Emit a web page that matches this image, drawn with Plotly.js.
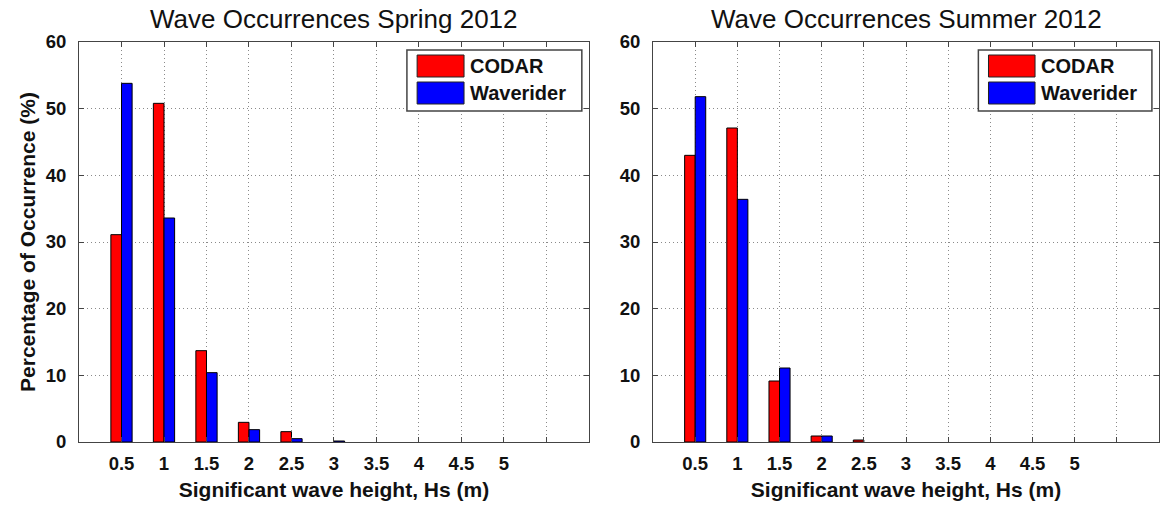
<!DOCTYPE html>
<html>
<head>
<meta charset="utf-8">
<script src="https://cdn.plot.ly/plotly-3.0.1.min.js"></script>
<style>html,body{margin:0;padding:0;background:#fff;}#chart{width:1163px;height:506px;}</style>
</head>
<body>
<div id="chart"></div>
<script>
// Data
const heights = [0.5, 1, 1.5, 2, 2.5, 3, 3.5, 4, 4.5, 5];
const tickVals = [0.5, 1, 1.5, 2, 2.5, 3, 3.5, 4, 4.5, 5, 5.5];
const tickText = ["0.5", "1", "1.5", "2", "2.5", "3", "3.5", "4", "4.5", "5", ""];
const seriesNames = ["CODAR", "Waverider"];
const springCodar = [31.1, 50.8, 13.7, 2.95, 1.55, 0, 0, 0, 0, 0];
const springWaverider = [53.8, 33.6, 10.4, 1.85, 0.5, 0.15, 0, 0, 0, 0];
const summerCodar = [43.0, 47.1, 9.15, 0.9, 0.3, 0, 0, 0, 0, 0];
const summerWaverider = [51.8, 36.4, 11.1, 0.9, 0, 0, 0, 0, 0, 0];
const titles = ["Wave Occurrences Spring 2012", "Wave Occurrences Summer 2012"];
const xTitle = "Significant wave height, Hs (m)";
const yTitle = "Percentage of Occurrence (%)";
const colors = ["#ff0000", "#0000ff"];

const FONT = "Liberation Sans, Arial, sans-serif";

function barTrace(y, idx, xa, ya) {
  return {
    type: "bar", x: heights, y: y, name: seriesNames[idx],
    xaxis: xa, yaxis: ya, showlegend: false,
    marker: {color: colors[idx], line: {color: "#000", width: y.map(function (v) { return v > 0 ? 1 : 0; })}},
    offsetgroup: String(idx)
  };
}

const data = [
  barTrace(springCodar, 0, "x", "y"),
  barTrace(springWaverider, 1, "x", "y"),
  barTrace(summerCodar, 0, "x2", "y2"),
  barTrace(summerWaverider, 1, "x2", "y2")
];

const GRID = {showgrid: true, gridcolor: "#8a8a8a", griddash: "1px,3px", gridwidth: 1};

function xAxis(domain, anchor) {
  return Object.assign({
    domain: domain, anchor: anchor, range: [0, 6],
    tickmode: "array", tickvals: tickVals, ticktext: tickText,
    ticks: "inside", ticklen: 5, tickcolor: "#444",
    showline: true, linecolor: "#444", linewidth: 1, mirror: "ticks",
    zeroline: false,
    tickfont: {family: FONT, size: 18.5, color: "#111", weight: "bold"},
    ticklabelstandoff: 5,
    title: {text: xTitle, font: {family: FONT, size: 21, color: "#111", weight: "bold"}, standoff: 9}
  }, GRID);
}
function yAxis(anchor, withTitle) {
  const ax = Object.assign({
    anchor: anchor, range: [0, 60],
    tickmode: "array", tickvals: [0, 10, 20, 30, 40, 50, 60],
    ticks: "inside", ticklen: 5, tickcolor: "#444",
    showline: true, linecolor: "#444", linewidth: 1, mirror: "ticks",
    zeroline: false,
    tickfont: {family: FONT, size: 18.5, color: "#111", weight: "bold"},
    ticklabelstandoff: 8
  }, GRID);
  if (withTitle) ax.title = {text: yTitle, font: {family: FONT, size: 21, color: "#111", weight: "bold"}, standoff: 4};
  return ax;
}

const shapes = [];
const annotations = [];
[["x", "y"], ["x2", "y2"]].forEach(function (pair, k) {
  const xr = pair[0] + " domain", yr = pair[1] + " domain";
  shapes.push({type: "rect", xref: xr, yref: yr, x0: 0.643, x1: 0.986, y0: 0.8275, y1: 0.98,
    line: {color: "#444", width: 1.5}, fillcolor: "#fff", layer: "above"});
  const sy = [[0.9125, 0.9675], [0.845, 0.90]];
  const ty = [0.94, 0.8725];
  for (let i = 0; i < 2; i++) {
    shapes.push({type: "rect", xref: xr, yref: yr, x0: 0.663, x1: 0.755, y0: sy[i][0], y1: sy[i][1],
      line: {color: "#222", width: 1}, fillcolor: colors[i], layer: "above"});
    annotations.push({xref: xr, yref: yr, x: 0.763, y: ty[i], xanchor: "left", yanchor: "middle",
      text: seriesNames[i], showarrow: false,
      font: {family: FONT, size: 20, color: "#111", weight: "bold"}});
  }
  annotations.push({xref: xr, yref: "paper", x: 0.5, y: 1, yshift: 23, xanchor: "center", yanchor: "middle",
    text: titles[k], showarrow: false, font: {family: FONT, size: 26, color: "#111"}});
});

const layout = {
  width: 1163, height: 506,
  margin: {l: 79, r: 4, t: 42, b: 64},
  paper_bgcolor: "#fff", plot_bgcolor: "#fff",
  barmode: "group", bargap: 0.5, bargroupgap: 0,
  xaxis: xAxis([0, 0.4722], "y"),
  yaxis: yAxis("x", true),
  xaxis2: xAxis([0.5315, 1], "y2"),
  yaxis2: yAxis("x2", false),
  shapes: shapes, annotations: annotations,
  showlegend: false
};

Plotly.newPlot("chart", data, layout, {displayModeBar: false, staticPlot: true});
</script>
</body>
</html>
